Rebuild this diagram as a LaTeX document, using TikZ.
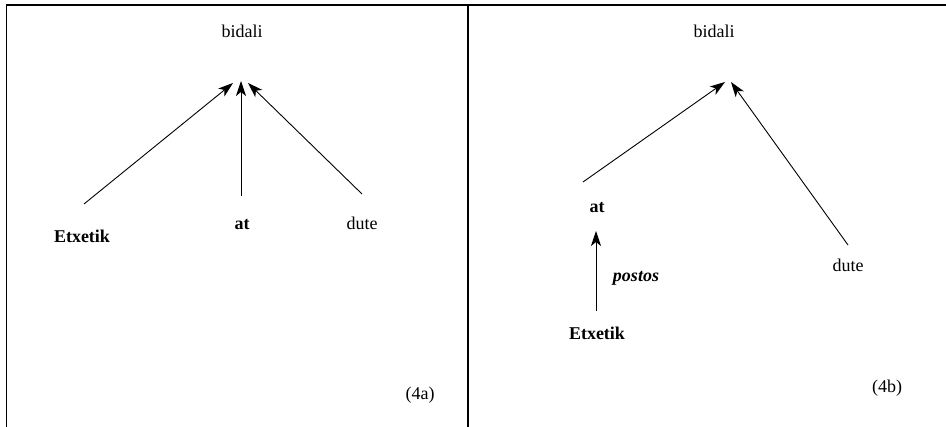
\documentclass[tikz,border=0pt]{standalone}
\usepackage{fontspec}
\setmainfont{Liberation Serif}
\usetikzlibrary{arrows.meta}
\begin{document}
\begin{tikzpicture}[x=1pt,y=-1pt,
  lbl/.style={font=\fontsize{18}{21}\selectfont, inner sep=0pt, anchor=base},
  blbl/.style={lbl, font=\fontsize{18}{21}\selectfont\bfseries},
  arr/.style={line width=0.9pt, -{Stealth[length=15pt,width=10pt,inset=4pt]}},
  frame/.style={line width=1.2pt}]
\useasboundingbox (0,0) rectangle (946,427);
% frame
\coordinate (tl) at (6.5,5);
\coordinate (tr) at (946,5);
\coordinate (bl) at (6.5,427);
\coordinate (tm) at (468,5);
\coordinate (bm) at (468,427);
\draw[frame] (bl) -- (tl) -- (tr);
\draw[frame] (tm) -- (bm);
% left panel (4a)
\node[lbl] (bidA) at (242,38) {bidali};
\node[blbl] (etxA) at (82,243) {Etxetik};
\node[blbl] (atA) at (242,230) {at};
\node[lbl] (duteA) at (362,230) {dute};
\node[lbl] (labA) at (420,400) {(4a)};
\coordinate (eA0) at (84,204);
\coordinate (eA1) at (233,83);
\coordinate (aA0) at (241,196);
\coordinate (aA1) at (241,81);
\coordinate (dA0) at (362,194);
\coordinate (dA1) at (248,83);
\draw[arr] (eA0) -- (eA1);
\draw[arr] (aA0) -- (aA1);
\draw[arr] (dA0) -- (dA1);
% right panel (4b)
\node[lbl] (bidB) at (714,38) {bidali};
\node[blbl] (atB) at (597,213) {at};
\node[blbl] (etxB) at (597,340) {Etxetik};
\node[lbl] (duteB) at (848,272) {dute};
\node[lbl, font=\fontsize{18}{21}\selectfont\bfseries\itshape] (postos) at (636,282) {postos};
\node[lbl] (labB) at (887,393) {(4b)};
\coordinate (aB0) at (583,182);
\coordinate (aB1) at (725,82);
\coordinate (dB0) at (848,245);
\coordinate (dB1) at (731,82);
\coordinate (eB0) at (596,311);
\coordinate (eB1) at (596,231);
\draw[arr] (aB0) -- (aB1);
\draw[arr] (dB0) -- (dB1);
\draw[arr] (eB0) -- (eB1);
\end{tikzpicture}
\end{document}
